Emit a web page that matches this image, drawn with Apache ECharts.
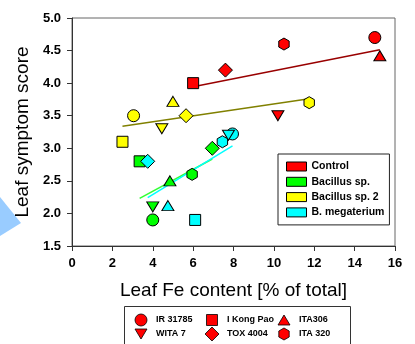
<!DOCTYPE html>
<html>
<head>
<meta charset="utf-8">
<script src="https://cdn.jsdelivr.net/npm/echarts@6/dist/echarts.min.js"></script>
<style>
  html, body { margin: 0; padding: 0; background: #fff; }
  #chart { width: 415px; height: 344px; }
</style>
</head>
<body>
<div id="chart"></div>
<script>
// cultivar order used by every group array below
var cultivars = ['IR 31785', 'WITA 7', 'I Kong Pao', 'TOX 4004', 'ITA306', 'ITA 320'];
var groups = ['Control', 'Bacillus sp.', 'Bacillus sp. 2', 'B. megaterium'];

// leaf Fe content [% of total] and leaf symptom score
var controlFe = [15.0, 10.2, 6.0, 7.6, 15.25, 10.5];
var controlScore = [4.7, 3.5, 4.0, 4.2, 4.42, 4.6];
var bacillusFe = [4.0, 4.0, 3.35, 6.95, 4.85, 5.95];
var bacillusScore = [1.9, 2.1, 2.8, 3.0, 2.5, 2.6];
var bacillus2Fe = [3.05, 4.45, 2.5, 5.65, 5.0, 11.75];
var bacillus2Score = [3.5, 3.3, 3.1, 3.5, 3.72, 3.7];
var megaFe = [7.95, 7.75, 6.1, 3.75, 4.75, 7.45];
var megaScore = [3.22, 3.2, 1.9, 2.8, 2.12, 3.1];

var xTicks = [0, 2, 4, 6, 8, 10, 12, 14, 16];
var yTicks = [1.5, 2.0, 2.5, 3.0, 3.5, 4.0, 4.5, 5.0];

var groupColors = ['#FF0000', '#00FF00', '#FFFF00', '#00FFFF'];
var trendColors = ['#990000', '#33FF33', '#808000', '#00FFFF'];

var hexagon = 'path://M0,-10L8.66,-5L8.66,5L0,10L-8.66,5L-8.66,-5Z';
var marks = [
  { symbol: 'circle', symbolSize: 12 },
  { symbol: 'triangle', symbolSize: [12, 10], symbolRotate: 180 },
  { symbol: 'rect', symbolSize: 11 },
  { symbol: 'diamond', symbolSize: 14 },
  { symbol: 'triangle', symbolSize: [12, 10] },
  { symbol: hexagon, symbolSize: 12, symbolKeepAspect: true }
];

var groupFe = [controlFe, bacillusFe, bacillus2Fe, megaFe];
var groupScore = [controlScore, bacillusScore, bacillus2Score, megaScore];

// least squares line over the group's x range
function trend(xs, ys) {
  var n = xs.length, mx = 0, my = 0, sxy = 0, sxx = 0;
  xs.forEach(function (x, i) { mx += x / n; my += ys[i] / n; });
  xs.forEach(function (x, i) { sxy += (x - mx) * (ys[i] - my); sxx += (x - mx) * (x - mx); });
  var b = sxy / sxx, a = my - b * mx;
  var lo = Math.min.apply(null, xs), hi = Math.max.apply(null, xs);
  return [[lo, a + b * lo], [hi, a + b * hi]];
}

var series = [];
groups.forEach(function (g, gi) {
  series.push({
    name: g + ' trend',
    type: 'line',
    silent: true,
    symbol: 'none',
    z: 1,
    lineStyle: { color: trendColors[gi], width: 1.5 },
    data: trend(groupFe[gi], groupScore[gi])
  });
});
groups.forEach(function (g, gi) {
  series.push({
    name: g,
    type: 'scatter',
    z: 3,
    itemStyle: { color: groupColors[gi], borderColor: '#000', borderWidth: 1, opacity: 1 },
    data: groupFe[gi].map(function (x, i) {
      return Object.assign({ name: cultivars[i], value: [x, groupScore[gi][i]] }, marks[i]);
    })
  });
});

// shape key under the chart
var keyCols = [141, 212, 284];
var keyRows = [320, 334];
var keyShapes = [
  { type: 'circle', shape: { cx: 0, cy: 0, r: 6 } },
  { type: 'polygon', shape: { points: [[-6, -5], [6, -5], [0, 5]] } },
  { type: 'rect', shape: { x: -5.5, y: -5.5, width: 11, height: 11 } },
  { type: 'polygon', shape: { points: [[0, -7], [7, 0], [0, 7], [-7, 0]] } },
  { type: 'polygon', shape: { points: [[0, -5], [6, 5], [-6, 5]] } },
  { type: 'polygon', shape: { points: [[0, -6], [5.2, -3], [5.2, 3], [0, 6], [-5.2, 3], [-5.2, -3]] } }
];
var keyOrder = [0, 2, 4, 1, 3, 5]; // row by row
var keyItems = [{
  type: 'rect',
  shape: { x: 124.5, y: 306.5, width: 226, height: 44 },
  style: { fill: '#fff', stroke: '#333', lineWidth: 1 }
}];
keyOrder.forEach(function (ci, k) {
  var col = k % 3, row = Math.floor(k / 3);
  var s = keyShapes[ci];
  keyItems.push({
    type: s.type,
    shape: s.shape,
    x: keyCols[col],
    y: keyRows[row],
    style: { fill: '#FF0000', stroke: '#000', lineWidth: 0.8 }
  });
  keyItems.push({
    type: 'text',
    x: keyCols[col] + 15,
    y: keyRows[row],
    style: {
      text: cultivars[ci],
      font: 'bold 9px "Liberation Sans", Arial, sans-serif',
      fill: '#000',
      verticalAlign: 'middle'
    }
  });
});

var myChart = echarts.init(document.getElementById('chart'));
var option = {
  backgroundColor: '#fff',
  animation: false,
  textStyle: { fontFamily: '"Liberation Sans", Arial, sans-serif' },
  grid: {
    left: 72, top: 18, width: 323, height: 228,
    show: true, borderColor: '#666', borderWidth: 1
  },
  legend: {
    data: groups,
    orient: 'vertical',
    left: 278, top: 154,
    icon: 'rect',
    itemWidth: 20, itemHeight: 9, itemGap: 4.3,
    padding: [7, 5, 7, 8],
    backgroundColor: '#fff',
    borderColor: '#222', borderWidth: 1, borderRadius: 0,
    itemStyle: { borderColor: '#000', borderWidth: 1 },
    textStyle: { fontSize: 10.5, fontWeight: 'bold', color: '#000', padding: [0, 0, 0, 0] },
    selectedMode: false
  },
  xAxis: {
    type: 'value',
    min: xTicks[0], max: xTicks[xTicks.length - 1], interval: xTicks[1] - xTicks[0],
    name: 'Leaf Fe content [% of total]',
    nameLocation: 'middle', nameGap: 35,
    nameTextStyle: { fontSize: 19, color: '#000' },
    axisLine: { lineStyle: { color: '#333' } },
    axisTick: { length: 5, lineStyle: { color: '#333' } },
    axisLabel: { fontSize: 13, fontWeight: 'bold', color: '#000', margin: 11 },
    splitLine: { show: false }
  },
  yAxis: {
    type: 'value',
    min: yTicks[0], max: yTicks[yTicks.length - 1], interval: yTicks[1] - yTicks[0],
    name: 'Leaf symptom score',
    nameLocation: 'middle', nameGap: 40,
    nameTextStyle: { fontSize: 19, color: '#000' },
    axisLine: { show: true, lineStyle: { color: '#333' } },
    axisTick: { show: true, length: 5, lineStyle: { color: '#333' } },
    axisLabel: {
      fontSize: 13, fontWeight: 'bold', color: '#000', margin: 11,
      formatter: function (v) { return v.toFixed(1); }
    },
    splitLine: { show: false }
  },
  graphic: [
    {
      // blue arrow at the left edge
      type: 'polygon',
      shape: { points: [[0, 197], [21, 223], [0, 236]] },
      style: { fill: '#99CCFF' }
    }
  ].concat(keyItems),
  series: series
};

option && myChart.setOption(option);
</script>
</body>
</html>
